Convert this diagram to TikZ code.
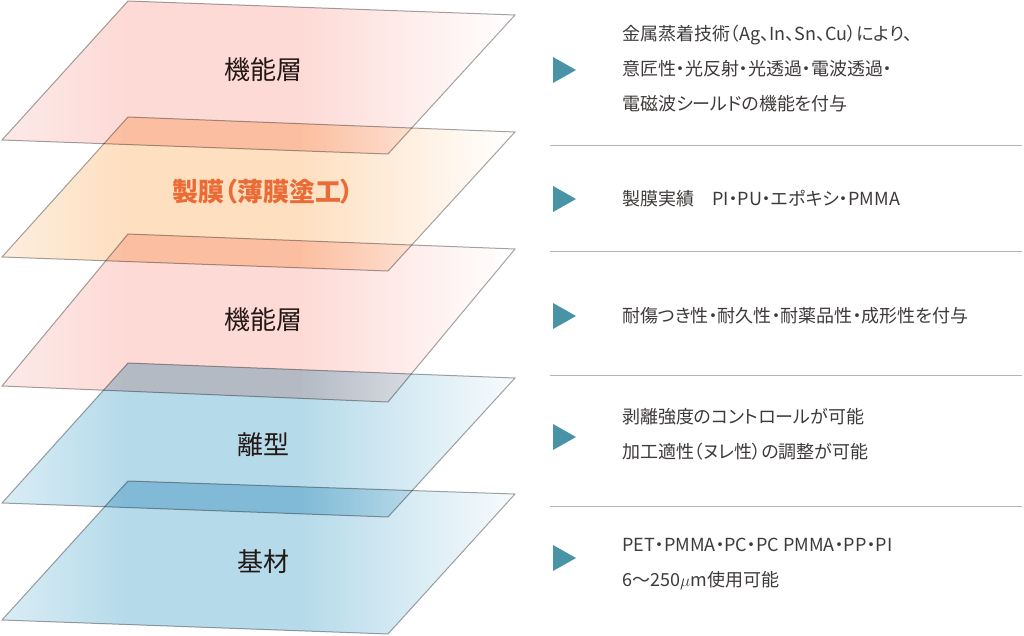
\documentclass[tikz,border=0pt]{standalone}
\usepackage{fontspec}
\setmainfont{Noto Sans CJK JP}
\newfontfamily\descfont[RawFeature=+palt]{Noto Sans CJK JP}
\usetikzlibrary{positioning}
\definecolor{layerpink}{HTML}{FDDAD6}
\definecolor{pinklight}{HTML}{FCEAE8}
\definecolor{layerpeach}{HTML}{FEDFC0}
\definecolor{peachlight}{HTML}{FDEEDF}
\definecolor{layerblue}{HTML}{B5DAEA}
\definecolor{bluelight}{HTML}{DAEDF5}
\definecolor{layeredge}{HTML}{A4A4A4}
\definecolor{labeltext}{HTML}{231815}
\definecolor{filmorange}{HTML}{EA6B35}
\definecolor{markteal}{HTML}{4993A6}
\definecolor{desctext}{HTML}{3E3A39}
\definecolor{sepgray}{HTML}{B4B4B4}
\pgfdeclarehorizontalshading{pinkfade}{100bp}{color(0bp)=(pinklight); color(25bp)=(pinklight); color(37bp)=(layerpink); color(54bp)=(layerpink); color(75bp)=(white); color(100bp)=(white)}
\pgfdeclarehorizontalshading{peachfade}{100bp}{color(0bp)=(peachlight); color(25bp)=(peachlight); color(37bp)=(layerpeach); color(54bp)=(layerpeach); color(75bp)=(white); color(100bp)=(white)}
\pgfdeclarehorizontalshading{bluefade}{100bp}{color(0bp)=(bluelight); color(25bp)=(bluelight); color(37bp)=(layerblue); color(54bp)=(layerblue); color(75bp)=(white!90!layerblue); color(100bp)=(white!90!layerblue)}
\begin{document}
\begin{tikzpicture}[x=1pt,y=-1pt,
	layer/.style={draw=layeredge, line width=1pt, blend mode=multiply},
	layerlabel/.style={font=\fontsize{26}{30}\selectfont, text=labeltext, inner sep=0pt},
	desc/.style={anchor=west, align=left, inner sep=0pt, text=desctext, font=\descfont\fontsize{18}{35}\selectfont},
	sepline/.style={draw=sepgray, line width=0.8pt}]
	\useasboundingbox (0,0) rectangle (1024,636);
	% layers, top to bottom
	\path[layer, shading=pinkfade] (128,1) -- (515,15) -- (388,154) -- (2,140) -- cycle;
	\path[layer, shading=peachfade] (128,117) -- (515,132) -- (388,271) -- (2,257) -- cycle;
	\path[layer, shading=pinkfade] (128,234) -- (515,249) -- (388,402) -- (2,386) -- cycle;
	\path[layer, shading=bluefade] (128,363) -- (515,378) -- (388,517) -- (2,503) -- cycle;
	\path[layer, shading=bluefade] (128,481) -- (515,494) -- (388,634) -- (2,620) -- cycle;
	\node[layerlabel] (func1) at (263,70) {機能層};
	\node[layerlabel, text=filmorange, font=\descfont\bfseries\fontsize{26}{30}\selectfont] (film) at (263,192) {製膜（薄膜塗工）};
	\node[layerlabel] (func2) at (263,320) {機能層};
	\node[layerlabel] (release) at (263,445) {離型};
	\node[layerlabel] (base) at (263,562) {基材};
	% markers
	\foreach \y in {70,199,316,437,558}
		\fill[markteal] (553,\y-13) -- (576,\y) -- (553,\y+13) -- cycle;
	% descriptions
	\node[desc] (desc1) at (622,69) {金属蒸着技術（Ag、In、Sn、Cu）により、\\意匠性・光反射・光透過・電波透過・\\電磁波シールドの機能を付与};
	\node[desc] (desc2) at (622,199) {製膜実績　PI・PU・エポキシ・PMMA};
	\node[desc] (desc3) at (622,316) {耐傷つき性・耐久性・耐薬品性・成形性を付与};
	\node[desc] (desc4) at (622,434.5) {剥離強度のコントロールが可能\\加工適性（ヌレ性）の調整が可能};
	\node[desc] (desc5) at (622,564) {PET・PMMA・PC・PC PMMA・PP・PI\\6〜250$\mu$m使用可能};
	% separators
	\foreach \y in {145,251,375,506}
		\draw[sepline] (550,\y) -- (1022,\y);
\end{tikzpicture}
\end{document}
